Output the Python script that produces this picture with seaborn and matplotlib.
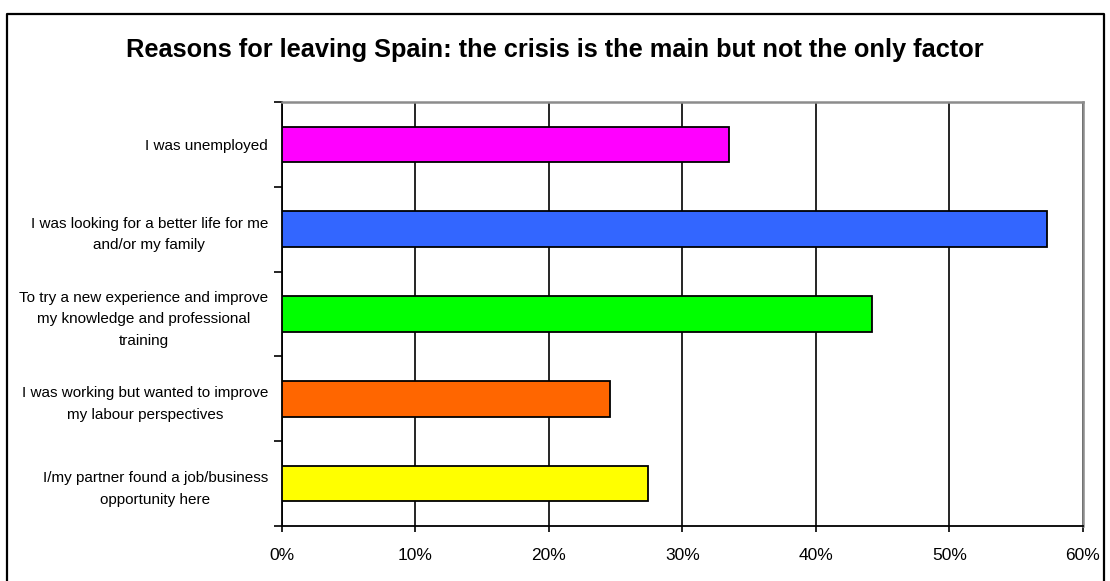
import matplotlib
matplotlib.use("Agg")
import matplotlib.pyplot as plt
import seaborn as sns
import pandas as pd
from matplotlib.ticker import PercentFormatter, FixedLocator
from matplotlib.lines import Line2D

# data
reasons = [
    "I was unemployed",
    "I was looking for a better life for me\nand/or my family",
    "To try a new experience and improve\nmy knowledge and professional\ntraining",
    "I was working but wanted to improve\nmy labour perspectives",
    "I/my partner found a job/business\nopportunity here",
]
share = [0.335, 0.573, 0.442, 0.246, 0.274]
bar_colors = ["#FF00FF", "#3366FF", "#00FF00", "#FF6600", "#FFFF00"]

df = pd.DataFrame({"reason": reasons, "share": share})

sns.set_style("white")
plt.rcParams["font.family"] = ["Liberation Sans", "DejaVu Sans"]
plt.rcParams["text.color"] = "black"
plt.rcParams["xtick.color"] = "black"
plt.rcParams["ytick.color"] = "black"

fig = plt.figure(figsize=(11.1, 5.81), dpi=100)
ax = fig.add_axes([0.254, 0.0947, 0.7215, 0.7297])

sns.barplot(data=df, y="reason", x="share", hue="reason", palette=bar_colors,
            width=0.42, edgecolor="black", linewidth=1.3, legend=False,
            saturation=1, ax=ax, zorder=3)

ax.set_xlim(0, 0.6)
ax.set_ylim(4.5, -0.5)
ax.xaxis.set_major_formatter(PercentFormatter(1.0, decimals=0))
ax.set_xticks([0, 0.1, 0.2, 0.3, 0.4, 0.5, 0.6])
ax.grid(axis="x", color="black", linewidth=1.2, zorder=0)
ax.set_axisbelow(True)
ax.set_xlabel("")
ax.set_ylabel("")

# y ticks: labels at category centres, tick marks at the boundaries
ax.yaxis.set_minor_locator(FixedLocator([-0.5, 0.5, 1.5, 2.5, 3.5, 4.5]))
ax.tick_params(axis="y", which="major", length=0, pad=10, labelsize=11)
ax.tick_params(axis="y", which="minor", left=True, length=5.5, width=1.2, color="black")
ax.tick_params(axis="x", which="major", bottom=True, length=4.5, width=1.2,
               color="black", pad=11, labelsize=12.5)
for lab in ax.get_yticklabels():
    lab.set_multialignment("center")
    lab.set_linespacing(1.7)
    lab.set_color("black")

for s in ["left", "bottom"]:
    ax.spines[s].set_color("black")
    ax.spines[s].set_linewidth(1.3)
for s in ["top", "right"]:
    ax.spines[s].set_color("#8c8c8c")
    ax.spines[s].set_linewidth(1.8)

fig.text(0.5, 1 - 50 / 581, "Reasons for leaving Spain: the crisis is the main but not the only factor",
         ha="center", va="center", fontsize=18.3, fontweight="bold", color="black")

# outer chart frame (bottom edge is cut off in the original)
fx0, fx1, fy = 7 / 1110, 1104 / 1110, 1 - 14 / 581
fig.add_artist(Line2D([fx0, fx0, fx1, fx1], [0, fy, fy, 0], color="black", linewidth=1.6))

fig.savefig("out.png", dpi=100)
